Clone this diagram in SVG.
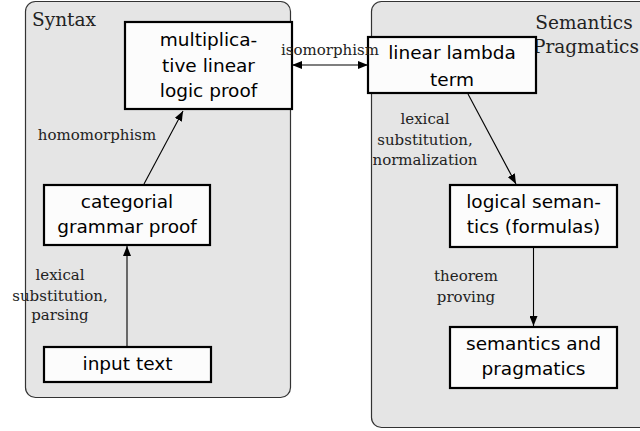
<svg xmlns="http://www.w3.org/2000/svg" width="640" height="431" viewBox="0 0 640 431">
<defs>
<marker id="ah" viewBox="0 0 10 8" refX="10" refY="4" markerWidth="10" markerHeight="8" markerUnits="userSpaceOnUse" orient="auto-start-reverse">
<path d="M0,0 L10,4 L0,8 z" fill="#000"/>
</marker>
<style>
.panel{fill:#e5e5e5;stroke:#333;stroke-width:1.2}
.node rect{fill:#fcfcfc;stroke:#000;stroke-width:2.2}
.node text{font-family:"DejaVu Sans",sans-serif;font-size:18.5px;fill:#000;text-anchor:middle}
.lbl{font-family:"DejaVu Serif",serif;font-size:15px;fill:#222;text-anchor:middle}
.title{font-family:"DejaVu Serif",serif;font-size:18.5px;fill:#222}
.edge{stroke:#000;stroke-width:1.1;fill:none;marker-end:url(#ah)}
</style>
</defs>
<rect class="panel" x="25.5" y="1.5" width="265" height="396" rx="10"/>
<rect class="panel" x="371.5" y="1.5" width="290" height="426" rx="10"/>
<text class="title" x="32" y="26">Syntax</text>
<text class="title" x="584" y="29" text-anchor="middle">Semantics</text>
<text class="title" x="586" y="53" text-anchor="middle">Pragmatics</text>
<g id="connectors">
<line class="edge" x1="144" y1="184" x2="183" y2="111"/>
<line class="edge" x1="292" y1="65" x2="368" y2="65" style="marker-start:url(#ah)"/>
<line class="edge" x1="127" y1="347" x2="127" y2="246"/>
<line class="edge" x1="468" y1="94" x2="516" y2="184"/>
<line class="edge" x1="533.5" y1="247" x2="533.5" y2="326"/>
</g>
<g id="n-mll" class="node">
<rect x="125" y="22" width="167" height="87"/>
<text x="208.5" y="46">multiplica-</text>
<text x="208.5" y="72">tive linear</text>
<text x="208.5" y="97">logic proof</text>
</g>
<g id="n-cat" class="node">
<rect x="44" y="185" width="166" height="60"/>
<text x="127" y="208">categorial</text>
<text x="127" y="233">grammar proof</text>
</g>
<g id="n-input" class="node">
<rect x="44" y="347" width="167" height="35"/>
<text x="127.5" y="370">input text</text>
</g>
<g id="n-lambda" class="node">
<rect x="368" y="37" width="168" height="56"/>
<text x="452" y="59">linear lambda</text>
<text x="452" y="86">term</text>
</g>
<g id="n-logsem" class="node">
<rect x="450" y="185" width="167" height="62"/>
<text x="533.5" y="208">logical seman-</text>
<text x="533.5" y="233">tics (formulas)</text>
</g>
<g id="n-sempra" class="node">
<rect x="450" y="327" width="167" height="61"/>
<text x="533.5" y="350">semantics and</text>
<text x="533.5" y="375">pragmatics</text>
</g>
<g id="labels">
<text class="lbl" x="97" y="140">homomorphism</text>
<text class="lbl" x="330" y="55">isomorphism</text>
<text class="lbl" x="425" y="124">lexical</text>
<text class="lbl" x="425" y="145">substitution,</text>
<text class="lbl" x="425" y="165">normalization</text>
<text class="lbl" x="60" y="280">lexical</text>
<text class="lbl" x="60" y="301">substitution,</text>
<text class="lbl" x="60" y="320">parsing</text>
<text class="lbl" x="466" y="281">theorem</text>
<text class="lbl" x="466" y="302">proving</text>
</g>
</svg>
